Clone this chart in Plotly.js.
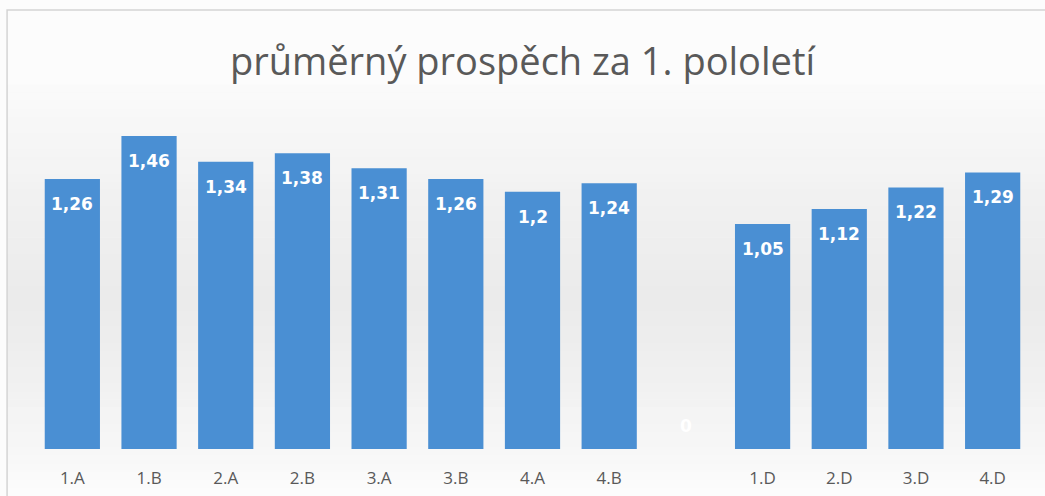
<!DOCTYPE html>
<html>
<head>
<meta charset="utf-8">
<script src="https://cdn.plot.ly/plotly-3.0.1.min.js"></script>
<style>html,body{margin:0;padding:0;background:#ffffff;}#chart{width:1045px;height:496px;}</style>
</head>
<body>
<div id="chart"></div>
<script>
const categories = ['1.A','1.B','2.A','2.B','3.A','3.B','4.A','4.B',' ','1.D','2.D','3.D','4.D'];
const values = [1.26,1.46,1.34,1.38,1.31,1.26,1.2,1.24,0,1.05,1.12,1.22,1.29];
const valueLabels = ['1,26','1,46','1,34','1,38','1,31','1,26','1,2','1,24','0','1,05','1,12','1,22','1,29'];
const titleText = 'průměrný prospěch za 1. pololetí';

const trace = {
  type: 'bar',
  x: categories,
  y: values,
  marker: {color: '#4a8fd3', line: {width: 0}},
  hoverinfo: 'skip'
};

const annotations = categories.map((c, i) => ({
  x: c, y: values[i], xref: 'x', yref: 'y',
  text: valueLabels[i], showarrow: false,
  yshift: values[i] === 0 ? 23 : -25,
  font: {family: 'DejaVu Sans', size: 17, color: '#ffffff', weight: 'bold'}
}));

// smooth vertical background shading (decorative)
const shapes = [];
const pxTop = 12, pxBottom = 496, plotTop = 106, plotH = 343;
const nBands = 60;
for (let k = 0; k < nBands; k++) {
  const p0 = pxTop + (pxBottom - pxTop) * k / nBands;
  const p1 = pxTop + (pxBottom - pxTop) * (k + 1) / nBands;
  const mid = (p0 + p1) / 2;
  // darkest around y ~ 300px, fading toward top and bottom
  let t = 1 - Math.abs(mid - 300) / 220;
  if (mid > 300) t = 1 - (mid - 300) / 190;
  t = Math.max(0, Math.min(1, t));
  const a = (0.13 * Math.pow(t, 0.8)).toFixed(3);
  shapes.push({
    type: 'rect', xref: 'paper', yref: 'paper', layer: 'below',
    x0: -0.027, x1: 1.02,
    y0: (plotTop + plotH - p1) / plotH, y1: (plotTop + plotH - p0) / plotH,
    line: {width: 0}, fillcolor: 'rgba(120,120,120,' + a + ')'
  });
}
shapes.push({
  type: 'rect', xref: 'paper', yref: 'paper', layer: 'below',
  x0: -0.027, x1: 1.02, y0: -0.15, y1: 1.28,
  line: {width: 1.5, color: '#d4d4d4'}, fillcolor: 'rgba(0,0,0,0)'
});

const layout = {
  width: 1045, height: 496,
  margin: {l: 34, r: 14, t: 106, b: 47},
  paper_bgcolor: '#fcfcfc',
  plot_bgcolor: 'rgba(0,0,0,0)',
  showlegend: false,
  bargap: 0.28,
  title: {
    text: titleText, x: 0.5, xanchor: 'center', y: 0.875, yanchor: 'middle',
    font: {family: 'Open Sans', size: 38, color: '#595959'}
  },
  xaxis: {
    type: 'category', showgrid: false, zeroline: false, showline: false,
    ticks: 'outside', ticklen: 14, tickcolor: 'rgba(0,0,0,0)',
    tickfont: {family: 'Open Sans', size: 17, color: '#595959'}
  },
  yaxis: {range: [0, 1.6], visible: false, showgrid: false, zeroline: false},
  annotations: annotations,
  shapes: shapes
};

Plotly.newPlot('chart', [trace], layout, {displayModeBar: false, staticPlot: true});
</script>
</body>
</html>
